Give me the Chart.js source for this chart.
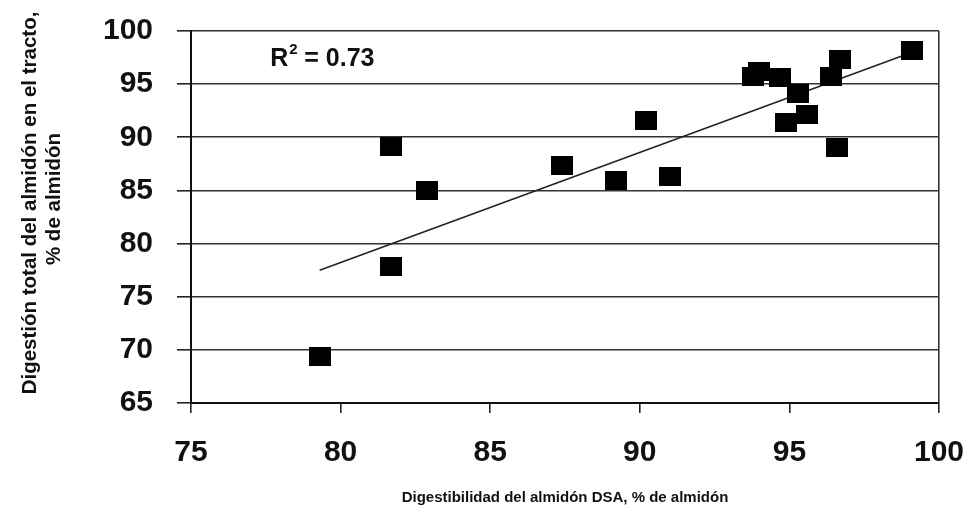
<!DOCTYPE html>
<html>
<head>
<meta charset="utf-8">
<script src="https://cdn.jsdelivr.net/npm/chart.js@4.4.0/dist/chart.umd.min.js"></script>
<style>
  html, body { margin: 0; padding: 0; background: #fff; }
  #wrap { width: 974px; height: 527px; }
</style>
</head>
<body>
<div id="wrap"><canvas id="c" width="974" height="527"></canvas></div>
<script>
// DSA starch digestibility (x) vs total tract starch digestion (y)
var dsa = [79.3, 81.7, 81.7, 82.9, 87.4, 89.2, 90.2, 91.0, 93.8, 94.0, 94.7, 94.9, 95.3, 95.6, 96.4, 96.6, 96.7, 99.1];
var ttsd = [69.4, 77.8, 89.1, 85.0, 87.3, 85.9, 91.6, 86.3, 95.7, 96.2, 95.6, 91.4, 94.1, 92.1, 95.7, 89.0, 97.3, 98.2];

// trend line end points
var trendX = [79.3, 99.1];
var trendY = [77.5, 98.0];

var xTicks = [75, 80, 85, 90, 95, 100];
var yTicks = [65, 70, 75, 80, 85, 90, 95, 100];
var r2Label = "0.73";
var yTitle = ['Digestión total del almidón en el tracto,', '% de almidón'];

var FONT = "'Liberation Sans', Arial, sans-serif";

// square marker, slightly wider than tall like the original
var marker = document.createElement('canvas');
marker.width = 22; marker.height = 19;
var mctx = marker.getContext('2d');
mctx.fillStyle = '#000';
mctx.fillRect(0, 0, 22, 19);

var points = dsa.map(function (x, i) { return { x: x, y: ttsd[i] }; });
var trend = trendX.map(function (x, i) { return { x: x, y: trendY[i] }; });

var textPlugin = {
  id: 'texts',
  afterDatasetsDraw: function (chart) {
    var ctx = chart.ctx;
    // R^2 label, anchored in data space
    var px = chart.scales.x.getPixelForValue(77.65);
    var py = chart.scales.y.getPixelForValue(97.4);
    ctx.save();
    ctx.fillStyle = '#111';
    ctx.textBaseline = 'middle';
    ctx.font = 'bold 25px ' + FONT;
    ctx.fillText('R', px, py);
    var w = ctx.measureText('R').width;
    ctx.font = 'bold 15px ' + FONT;
    ctx.fillText('2', px + w + 1, py - 9);
    ctx.font = 'bold 25px ' + FONT;
    ctx.fillText(' = ' + r2Label, px + w + 9, py);
    ctx.restore();

    // y axis title, two rotated lines
    ctx.save();
    ctx.fillStyle = '#111';
    ctx.textAlign = 'center';
    ctx.textBaseline = 'middle';
    ctx.font = 'bold 20.5px ' + FONT;
    ctx.translate(30, 203);
    ctx.rotate(-Math.PI / 2);
    ctx.fillText(yTitle[0], 0, 0);
    ctx.fillText(yTitle[1], 4, 24);
    ctx.restore();
  }
};

new Chart(document.getElementById('c'), {
  type: 'scatter',
  data: {
    datasets: [
      {
        data: points,
        pointStyle: marker,
        pointRadius: 11,
        pointHoverRadius: 11,
        backgroundColor: '#000',
        borderColor: '#000'
      },
      {
        type: 'line',
        data: trend,
        borderColor: '#222',
        borderWidth: 1.6,
        pointRadius: 0,
        fill: false
      }
    ]
  },
  options: {
    responsive: false,
    animation: false,
    events: [],
    layout: { padding: { top: 31, right: 35, left: 0, bottom: 0 } },
    plugins: { legend: { display: false }, tooltip: { enabled: false } },
    scales: {
      x: {
        type: 'linear',
        min: 75, max: 100,
        afterBuildTicks: function (ax) { ax.ticks = xTicks.map(function (v) { return { value: v }; }); },
        afterFit: function (ax) { ax.height = 124; ax.paddingLeft = 0; ax.paddingRight = 0; },
        border: { display: true, color: '#111', width: 2 },
        grid: {
          drawOnChartArea: true,
          color: function (c) { return c.tick && c.tick.value === 100 ? '#333' : 'rgba(0,0,0,0)'; },
          tickColor: '#222',
          lineWidth: 1.6,
          tickLength: 10
        },
        ticks: {
          color: '#111',
          padding: 22,
          maxRotation: 0,
          font: { family: FONT, size: 30, weight: 'bold' }
        },
        title: {
          display: true,
          text: 'Digestibilidad del almidón DSA, % de almidón',
          color: '#111',
          font: { family: FONT, size: 15, weight: 'bold' },
          padding: { top: 0, bottom: 20 }
        }
      },
      y: {
        type: 'linear',
        min: 65, max: 100,
        afterBuildTicks: function (ax) { ax.ticks = yTicks.map(function (v) { return { value: v }; }); },
        afterFit: function (ax) { ax.width = 191; ax.paddingTop = 0; ax.paddingBottom = 0; },
        border: { display: true, color: '#111', width: 2 },
        grid: {
          color: '#333',
          tickColor: '#222',
          lineWidth: 1.6,
          tickLength: 14
        },
        ticks: {
          color: '#111',
          padding: 24,
          font: { family: FONT, size: 30, weight: 'bold' }
        }
      }
    }
  },
  plugins: [textPlugin]
});
</script>
</body>
</html>
